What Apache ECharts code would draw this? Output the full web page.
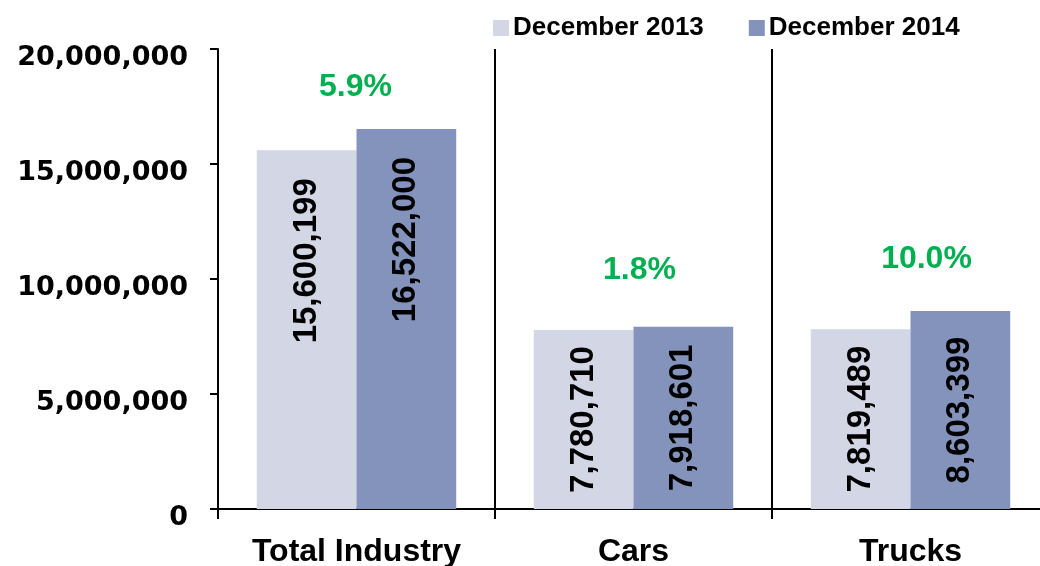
<!DOCTYPE html>
<html>
<head>
<meta charset="utf-8">
<script src="https://cdn.jsdelivr.net/npm/echarts@6/dist/echarts.min.js"></script>
<style>
    html, body { margin: 0; padding: 0; background: #fff; }
    #main { width: 1040px; height: 566px; }
</style>
</head>
<body>
<div id="main"></div>
<script>
// data
var categories = ['Total Industry', 'Cars', 'Trucks'];
var sales2013 = [15600199, 7780710, 7819489];
var sales2014 = [16522000, 7918601, 8603399];
var yTicks = [0, 5000000, 10000000, 15000000, 20000000];

var FONT = '"Liberation Sans", Arial, sans-serif';

// growth labels, computed from the two series
var growth = categories.map(function (c, i) {
    return ((sales2014[i] - sales2013[i]) / sales2013[i] * 100).toFixed(1) + '%';
});
// hand placement of the green labels (like in the original sheet)
var growthOffset = [[-1, -42], [6, -57], [16, -52]];

function fmt(v) {
    return Number(v).toLocaleString('en-US');
}

function barData(values) {
    return values.map(function (v, i) {
        var item = { value: v };
        if (i === 0) {
            // total industry labels sit near the top of the bar
            item.label = { position: 'insideTop', distance: 28, align: 'right', verticalAlign: 'middle' };
        }
        return item;
    });
}

var barLabel = {
    show: true,
    position: 'inside',
    rotate: 90,
    align: 'center',
    verticalAlign: 'middle',
    color: '#000',
    fontFamily: FONT,
    fontWeight: 'bold',
    fontSize: 33,
    formatter: function (p) { return fmt(p.value); }
};

var myChart = echarts.init(document.getElementById('main'));

var option = {
    animation: false,
    grid: {
        left: 218,
        top: 49,
        width: 831,
        height: 460,
        outerBoundsMode: 'none'
    },
    legend: {
        data: ['December 2013', 'December 2014'],
        left: 488,
        top: 10,
        itemWidth: 16,
        itemHeight: 16,
        itemGap: 45,
        icon: 'rect',
        textStyle: {
            color: '#000',
            fontFamily: FONT,
            fontWeight: 'bold',
            fontSize: 26,
            padding: [0, 0, 0, -1]
        }
    },
    xAxis: {
        type: 'category',
        data: categories,
        axisLine: { lineStyle: { color: '#000', width: 2 } },
        axisTick: { show: true, length: 10, lineStyle: { color: '#000', width: 2 } },
        splitLine: { show: true, lineStyle: { color: '#000', width: 2 } },
        axisLabel: {
            color: '#000',
            fontFamily: FONT,
            fontWeight: 'bold',
            fontSize: 32,
            margin: 27
        }
    },
    yAxis: {
        type: 'value',
        min: yTicks[0],
        max: yTicks[yTicks.length - 1],
        interval: yTicks[1] - yTicks[0],
        splitLine: { show: false },
        axisLine: { show: true, lineStyle: { color: '#000', width: 2 } },
        axisTick: { show: true, length: 8, lineStyle: { color: '#000', width: 2 } },
        axisLabel: {
            color: '#000',
            fontFamily: '"DejaVu Sans", sans-serif',
            fontWeight: 'bold',
            fontSize: 27,
            margin: 30,
            lineHeight: 40,
            verticalAlign: 'top',
            padding: [-11, 0, 0, 0],
            formatter: fmt
        }
    },
    series: [
        {
            name: 'December 2013',
            type: 'bar',
            barGap: 0,
            barCategoryGap: '28%',
            itemStyle: { color: '#D2D6E5' },
            label: barLabel,
            data: barData(sales2013)
        },
        {
            name: 'December 2014',
            type: 'bar',
            itemStyle: { color: '#8393BB' },
            label: barLabel,
            data: barData(sales2014)
        },
        {
            name: 'growth',
            type: 'scatter',
            symbolSize: 0,
            itemStyle: { color: '#00B050', opacity: 1 },
            silent: true,
            data: sales2014.map(function (v, i) {
                return {
                    value: Math.max(v, sales2013[i]),
                    label: {
                        show: true,
                        position: 'inside',
                        offset: growthOffset[i],
                        formatter: growth[i]
                    }
                };
            }),
            label: {
                show: true,
                color: '#00B050',
                opacity: 1,
                fontFamily: FONT,
                fontWeight: 'bold',
                fontSize: 32
            }
        }
    ]
};

myChart.setOption(option);
</script>
</body>
</html>
